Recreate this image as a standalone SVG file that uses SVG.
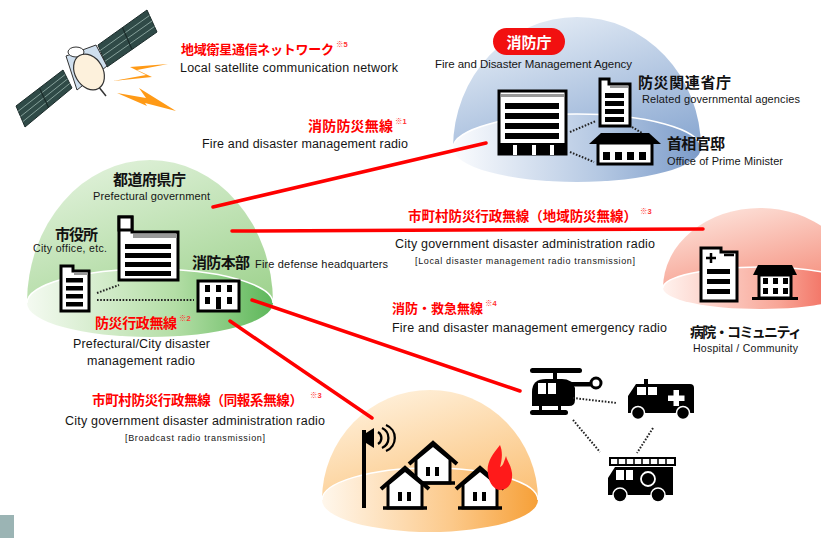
<svg xmlns="http://www.w3.org/2000/svg" width="821" height="538" viewBox="0 0 821 538">
  <defs>
    <style>
      .en { font-family: "Liberation Sans", Arial, sans-serif; fill: #151515; }
      .jp { font-family: "Liberation Sans", "Noto Sans CJK JP", sans-serif; font-weight: bold; fill: #111; }
      .jr { font-family: "Liberation Sans", "Noto Sans CJK JP", sans-serif; font-weight: bold; fill: #ff0000; }
      .note { font-family: "Liberation Sans", "Noto Sans CJK JP", sans-serif; font-weight: bold; fill: #ff3333; font-size: 7.5px; }
      .lnk { stroke: #ff0000; stroke-width: 3.5; fill: none; stroke-linecap: round; }
      .dot { stroke: #222; stroke-width: 2; stroke-dasharray: 1.6 1.6; fill: none; }
      .ico { fill: #fff; stroke: #000; stroke-width: 3; }
      .blk { fill: #000; }
      .rim { fill: none; stroke: #fff; stroke-width: 1.5; }
    </style>
    <linearGradient id="gDome" x1="0.2" y1="0" x2="0.8" y2="1">
      <stop offset="0" stop-color="#e2f2dc"/>
      <stop offset="1" stop-color="#a2d492"/>
    </linearGradient>
    <linearGradient id="gBase" x1="0" y1="0" x2="1" y2="0">
      <stop offset="0" stop-color="#f4faf1"/>
      <stop offset="0.6" stop-color="#b4dea6"/>
      <stop offset="1" stop-color="#5db75a"/>
    </linearGradient>
    <linearGradient id="bDome" x1="0.2" y1="0" x2="0.8" y2="1">
      <stop offset="0" stop-color="#e8eff7"/>
      <stop offset="1" stop-color="#8eabd3"/>
    </linearGradient>
    <linearGradient id="bBase" x1="0" y1="0" x2="1" y2="0">
      <stop offset="0" stop-color="#fbfcfe"/>
      <stop offset="0.6" stop-color="#b3c7e2"/>
      <stop offset="1" stop-color="#7b9bc9"/>
    </linearGradient>
    <linearGradient id="rDome" x1="0.2" y1="0" x2="0.8" y2="1">
      <stop offset="0" stop-color="#fde4dc"/>
      <stop offset="1" stop-color="#f58d7b"/>
    </linearGradient>
    <linearGradient id="rBase" x1="0" y1="0" x2="1" y2="0">
      <stop offset="0" stop-color="#fff2ee"/>
      <stop offset="0.6" stop-color="#f8a596"/>
      <stop offset="1" stop-color="#ef5244"/>
    </linearGradient>
    <linearGradient id="oDome" x1="0.2" y1="0" x2="0.8" y2="1">
      <stop offset="0" stop-color="#fff2de"/>
      <stop offset="1" stop-color="#fbc27a"/>
    </linearGradient>
    <linearGradient id="oBase" x1="0" y1="0" x2="1" y2="0">
      <stop offset="0" stop-color="#fff7ec"/>
      <stop offset="0.6" stop-color="#fcc98a"/>
      <stop offset="1" stop-color="#f6a038"/>
    </linearGradient>
    <!-- small house, peak at origin -->
    <g id="house">
      <polygon points="-17,40 -17,16 0,2 17,16 17,40" class="ico"/>
      <polyline points="-24,21 0,0 24,21" fill="none" stroke="#000" stroke-width="4"/>
      <line x1="-22" y1="40" x2="22" y2="40" stroke="#000" stroke-width="3.5"/>
      <rect x="-7" y="24" width="4" height="9" class="blk"/>
      <rect x="2" y="24" width="4" height="9" class="blk"/>
    </g>
  </defs>

  <rect width="821" height="538" fill="#fff"/>

  <!-- satellite -->
  <g id="satellite">
    <polygon points="16,106 63,70 72,88 25,127" fill="#2f4a47" stroke="#1b2b2a" stroke-width="1"/>
    <g stroke="#8fa9a3" stroke-width="0.9">
      <line x1="18.2" y1="111.2" x2="65.2" y2="74.5"/>
      <line x1="20.5" y1="116.5" x2="67.5" y2="79"/>
      <line x1="22.7" y1="121.7" x2="69.7" y2="83.5"/>
    </g>
    <line x1="39.5" y1="88" x2="48.5" y2="107.5" stroke="#1b2b2a" stroke-width="1.2"/>
    <polygon points="98,45 147,10 157,32 107,67" fill="#2f4a47" stroke="#1b2b2a" stroke-width="1"/>
    <g stroke="#8fa9a3" stroke-width="0.9">
      <line x1="100.2" y1="50.5" x2="149.5" y2="15.5"/>
      <line x1="102.5" y1="56" x2="152" y2="21"/>
      <line x1="104.7" y1="61.5" x2="154.5" y2="26.5"/>
    </g>
    <line x1="122.5" y1="27.5" x2="132" y2="49.5" stroke="#1b2b2a" stroke-width="1.2"/>
    <polygon points="66,56 96,45 107,66 77,90" fill="#cfdfee" stroke="#333" stroke-width="1"/>
    <ellipse cx="76" cy="52" rx="8" ry="5" fill="#fff" stroke="#333" stroke-width="1"/>
    <line x1="98" y1="86" x2="106" y2="96" stroke="#333" stroke-width="1.5"/>
    <ellipse cx="89" cy="72" rx="14" ry="19" transform="rotate(-30 89 72)" fill="#fdf1dc" stroke="#333" stroke-width="1.2"/>
    <polygon points="168,64 130,67 146,75 113,81 152,77 137,70" fill="#ff9a16"/>
    <polygon points="117,93 146,98 139,88 176,111 145,103 147,106" fill="#ff9a16"/>
  </g>

  <!-- Fire and Disaster Management Agency -->
  <g id="fdma">
    <path d="M453,148 A124,131 0 0 1 701,148 Z" fill="url(#bDome)"/>
    <ellipse cx="577" cy="148" rx="124" ry="34" fill="url(#bBase)"/>
    <path d="M453,148 A124,34 0 0 1 701,148" class="rim"/>
    <rect x="493" y="28" width="72" height="27" rx="13.5" fill="#f21010"/>
    <text x="529" y="47.5" text-anchor="middle" class="jp" style="fill:#fff" font-size="15">消防庁</text>
    <text x="435" y="68" class="en" font-size="11.5" textLength="197">Fire and Disaster Management Agency</text>
    <!-- main building -->
    <rect x="499" y="91" width="67" height="63" class="ico"/>
    <rect x="501" y="94" width="63" height="3" fill="#999"/>
    <rect x="505" y="103" width="54" height="6" class="blk"/>
    <rect x="505" y="113" width="54" height="6" class="blk"/>
    <rect x="505" y="123" width="54" height="6" class="blk"/>
    <rect x="505" y="133" width="54" height="6" class="blk"/>
    <rect x="499" y="143" width="67" height="12" class="blk"/>
    <rect x="513" y="145" width="4" height="10" fill="#fff"/>
    <rect x="532" y="145" width="4" height="10" fill="#fff"/>
    <rect x="550" y="145" width="4" height="10" fill="#fff"/>
  </g>

  <g id="agencies">
    <polygon points="600,79 609,79 609,84 630,84 630,126 600,126" class="ico"/>
    <rect x="610" y="86" width="18" height="2" fill="#999"/>
    <rect x="605" y="93" width="19" height="5" class="blk"/>
    <rect x="605" y="101" width="19" height="5" class="blk"/>
    <rect x="605" y="109" width="19" height="5" class="blk"/>
    <rect x="605" y="117" width="19" height="5" class="blk"/>
    <text x="638" y="88" class="jp" font-size="15" textLength="93">防災関連省庁</text>
    <text x="642" y="103" class="en" font-size="11" textLength="158">Related governmental agencies</text>
  </g>

  <g id="pm-office">
    <polygon points="589,144 601,133 649,133 661,144" class="blk"/>
    <rect x="598" y="143" width="54" height="21" class="ico"/>
    <rect x="603" y="152" width="7" height="8" class="blk"/>
    <rect x="615" y="152" width="7" height="8" class="blk"/>
    <rect x="627" y="152" width="7" height="8" class="blk"/>
    <rect x="639" y="152" width="7" height="8" class="blk"/>
    <text x="667" y="149" class="jp" font-size="15" textLength="58">首相官邸</text>
    <text x="667" y="165" class="en" font-size="11" textLength="116">Office of Prime Minister</text>
  </g>

  <!-- prefecture / city -->
  <g id="prefecture">
    <path d="M27,303 A123,143 0 0 1 273,303 Z" fill="url(#gDome)"/>
    <ellipse cx="150" cy="303" rx="123" ry="34" fill="url(#gBase)"/>
    <path d="M27,303 A123,34 0 0 1 273,303" class="rim"/>
    <text x="113" y="185" class="jp" font-size="15" textLength="73">都道府県庁</text>
    <text x="93" y="200" class="en" font-size="11" textLength="117">Prefectural government</text>
    <polygon points="119,217 132,217 132,232 178,232 178,280 119,280" class="ico"/>
    <rect x="119" y="217" width="13" height="13" class="ico" stroke-width="2.5"/>
    <rect x="133" y="234" width="44" height="4" fill="#999"/>
    <rect x="125" y="244" width="46" height="5" class="blk"/>
    <rect x="125" y="253" width="46" height="5" class="blk"/>
    <rect x="125" y="262" width="46" height="5" class="blk"/>
    <rect x="125" y="271" width="46" height="5" class="blk"/>
  </g>

  <g id="city-office">
    <text x="55" y="240" class="jp" font-size="15" textLength="43">市役所</text>
    <text x="33" y="252" class="en" font-size="10.5" textLength="74">City office, etc.</text>
    <polygon points="61,266 73,266 73,271 89,271 89,311 61,311" class="ico"/>
    <rect x="74" y="272.5" width="14" height="2.5" fill="#999"/>
    <rect x="66" y="278" width="17" height="4.5" class="blk"/>
    <rect x="66" y="286" width="17" height="4.5" class="blk"/>
    <rect x="66" y="294" width="17" height="4.5" class="blk"/>
    <rect x="66" y="302" width="17" height="4.5" class="blk"/>
  </g>

  <g id="fire-hq">
    <text x="192" y="268" class="jp" font-size="15" textLength="58">消防本部</text>
    <text x="255" y="268" class="en" font-size="11" textLength="133">Fire defense headquarters</text>
    <rect x="198" y="281" width="41" height="30" class="ico"/>
    <rect x="205" y="285" width="5" height="7" class="blk"/>
    <rect x="216" y="285" width="5" height="7" class="blk"/>
    <rect x="227" y="285" width="5" height="7" class="blk"/>
    <rect x="205" y="297" width="5" height="7" class="blk"/>
    <rect x="216" y="297" width="5" height="12" class="blk"/>
    <rect x="227" y="297" width="5" height="7" class="blk"/>
  </g>

  <!-- hospital / community -->
  <g id="hospital">
    <path d="M663,288 A97,80 0 0 1 857,288 Z" fill="url(#rDome)"/>
    <ellipse cx="760" cy="288" rx="97" ry="21" fill="url(#rBase)"/>
    <path d="M663,288 A97,21 0 0 1 857,288" class="rim"/>
    <polygon points="701,248 721,248 721,252 737,252 737,301 701,301" class="ico"/>
    <path d="M706,258 h10 M711,253 v10" stroke="#000" stroke-width="2.5"/>
    <path d="M724,255 h10" stroke="#000" stroke-width="2.5"/>
    <rect x="707" y="269" width="23" height="5" class="blk"/>
    <rect x="707" y="279" width="23" height="5" class="blk"/>
    <rect x="707" y="289" width="23" height="5" class="blk"/>
    <polygon points="753,275 758,265 792,265 797,275" class="blk"/>
    <rect x="759" y="275" width="32" height="23" class="ico" stroke-width="2.5"/>
    <rect x="752" y="297" width="46" height="3" class="blk"/>
    <rect x="763" y="278" width="5" height="6" class="blk"/>
    <rect x="773" y="278" width="5" height="6" class="blk"/>
    <rect x="783" y="278" width="5" height="6" class="blk"/>
    <rect x="763" y="288" width="5" height="6" class="blk"/>
    <rect x="773" y="288" width="5" height="6" class="blk"/>
    <rect x="783" y="288" width="5" height="6" class="blk"/>
    <text x="690" y="337" class="jp" font-size="14" textLength="112">病院・コミュニティ</text>
    <text x="693" y="352" class="en" font-size="10.5" textLength="105">Hospital / Community</text>
  </g>

  <!-- residents -->
  <g id="residents">
    <path d="M322,500 A108,110 0 0 1 538,500 Z" fill="url(#oDome)"/>
    <ellipse cx="430" cy="500" rx="108" ry="32" fill="url(#oBase)"/>
    <path d="M322,500 A108,32 0 0 1 538,500" class="rim"/>
    <rect x="362" y="430" width="4" height="78" class="blk"/>
    <polygon points="366,433 374,428 374,448 366,443" class="blk"/>
    <g fill="none" stroke="#000" stroke-width="2.3">
      <path d="M378,432 A7,7 0 0 1 378,444"/>
      <path d="M382,428 A11,11 0 0 1 382,448"/>
      <path d="M386,425 A14,14 0 0 1 386,451"/>
    </g>
    <use href="#house" x="433" y="443"/>
    <use href="#house" x="405" y="468"/>
    <use href="#house" x="480" y="468"/>
    <path d="M500,445 C492,455 486,463 488,474 C489,484 495,490 500,490 C508,490 513,483 512,473 C511,465 507,461 506,456 C504,462 503,466 500,467 C502,460 503,452 500,445 Z" fill="#ff1a1a"/>
  </g>

  <!-- emergency vehicles -->
  <g id="helicopter">
    <rect x="530" y="368" width="52" height="5" rx="2.5" class="blk"/>
    <rect x="553" y="371" width="4" height="9" class="blk"/>
    <path d="M532,406 L532,392 Q532,379 546,379 L562,379 Q572,379 575,388 L575,400 Q575,406 569,406 Z" class="blk"/>
    <rect x="570" y="382" width="22" height="4.5" class="blk"/>
    <circle cx="596" cy="383" r="5" fill="#fff" stroke="#000" stroke-width="3"/>
    <rect x="538" y="383" width="8" height="11" fill="#fff"/>
    <rect x="548" y="383" width="8" height="11" fill="#fff"/>
    <rect x="539" y="405" width="3" height="6" class="blk"/>
    <rect x="558" y="405" width="3" height="6" class="blk"/>
    <rect x="530" y="410" width="38" height="5" rx="2.5" class="blk"/>
  </g>

  <g id="ambulance">
    <rect x="644" y="379" width="4" height="5" class="blk"/>
    <path d="M628,413 L628,396 L636,384 L690,384 Q694,384 694,388 L694,413 Z" class="blk"/>
    <rect x="637" y="387" width="9" height="8" fill="#fff"/>
    <rect x="648" y="387" width="9" height="8" fill="#fff"/>
    <rect x="673.5" y="390" width="5.5" height="16" fill="#fff"/>
    <rect x="668" y="395.5" width="16.5" height="5.5" fill="#fff"/>
    <circle cx="638" cy="413" r="6.5" fill="#000" stroke="#fff" stroke-width="1.5"/>
    <circle cx="683" cy="413" r="6.5" fill="#000" stroke="#fff" stroke-width="1.5"/>
  </g>

  <g id="fire-engine">
    <rect x="610" y="458" width="65" height="7" fill="#fff" stroke="#000" stroke-width="2"/>
    <path d="M618,458 v7 M626,458 v7 M634,458 v7 M642,458 v7 M650,458 v7 M658,458 v7 M666,458 v7" stroke="#000" stroke-width="1.5"/>
    <path d="M608,495 L608,478 L615,467 L673,467 L673,495 Z" class="blk"/>
    <rect x="616" y="470" width="8" height="10" fill="#fff"/>
    <rect x="626" y="470" width="7" height="10" fill="#fff"/>
    <circle cx="648" cy="479" r="7" fill="none" stroke="#fff" stroke-width="1.8"/>
    <circle cx="620" cy="495" r="7" fill="#000" stroke="#fff" stroke-width="1.5"/>
    <circle cx="658" cy="495" r="7" fill="#000" stroke="#fff" stroke-width="1.5"/>
  </g>

  <!-- radio links and local ties -->
  <g id="connectors">
    <line x1="213" y1="207" x2="486" y2="143" class="lnk"/>
    <line x1="232" y1="231" x2="703" y2="229" class="lnk"/>
    <line x1="252" y1="300" x2="520" y2="391" class="lnk"/>
    <line x1="230" y1="321" x2="372" y2="418" class="lnk"/>
    <line x1="570" y1="132" x2="596" y2="121" class="dot"/>
    <line x1="570" y1="152" x2="594" y2="162" class="dot"/>
    <line x1="632" y1="127" x2="642" y2="133" class="dot"/>
    <line x1="97" y1="293" x2="119" y2="285" class="dot"/>
    <line x1="97" y1="300" x2="194" y2="300" class="dot"/>
    <line x1="573" y1="398" x2="617" y2="403" class="dot"/>
    <line x1="573" y1="420" x2="600" y2="452" class="dot"/>
    <line x1="653" y1="428" x2="637" y2="453" class="dot"/>
  </g>

  <!-- link labels -->
  <g id="labels">
    <text x="181" y="54" class="jr" font-size="13" textLength="153">地域衛星通信ネットワーク</text>
    <text x="336" y="47" class="note">※5</text>
    <text x="180" y="72" class="en" font-size="12.5" textLength="218">Local satellite communication network</text>

    <text x="308" y="131" class="jr" font-size="14" textLength="85">消防防災無線</text>
    <text x="395" y="124" class="note">※1</text>
    <text x="202" y="148" class="en" font-size="12.5" textLength="206">Fire and disaster management radio</text>

    <text x="408" y="221" class="jr" font-size="13.5" textLength="229">市町村防災行政無線（地域防災無線）</text>
    <text x="640" y="214" class="note">※3</text>
    <text x="395" y="248" class="en" font-size="12.5" textLength="260">City government disaster administration radio</text>
    <text x="415" y="264" class="en" font-size="9" textLength="220">[Local disaster management radio transmission]</text>

    <text x="392" y="313" class="jr" font-size="13" textLength="91">消防・救急無線</text>
    <text x="485" y="306" class="note">※4</text>
    <text x="392" y="332" class="en" font-size="12.5" textLength="275">Fire and disaster management emergency radio</text>

    <text x="95" y="328" class="jr" font-size="14" textLength="82">防災行政無線</text>
    <text x="179" y="321" class="note">※2</text>
    <text x="73" y="348" class="en" font-size="12.5" textLength="137">Prefectural/City disaster</text>
    <text x="87" y="365" class="en" font-size="12.5" textLength="108">management radio</text>

    <text x="92" y="405" class="jr" font-size="13.5" textLength="211">市町村防災行政無線（同報系無線）</text>
    <text x="310" y="398" class="note">※3</text>
    <text x="65" y="425" class="en" font-size="12.5" textLength="260">City government disaster administration radio</text>
    <text x="125" y="441" class="en" font-size="9" textLength="140">[Broadcast radio transmission]</text>
  </g>

  <rect x="0" y="515" width="14" height="23" fill="#9bb4b4"/>
</svg>
